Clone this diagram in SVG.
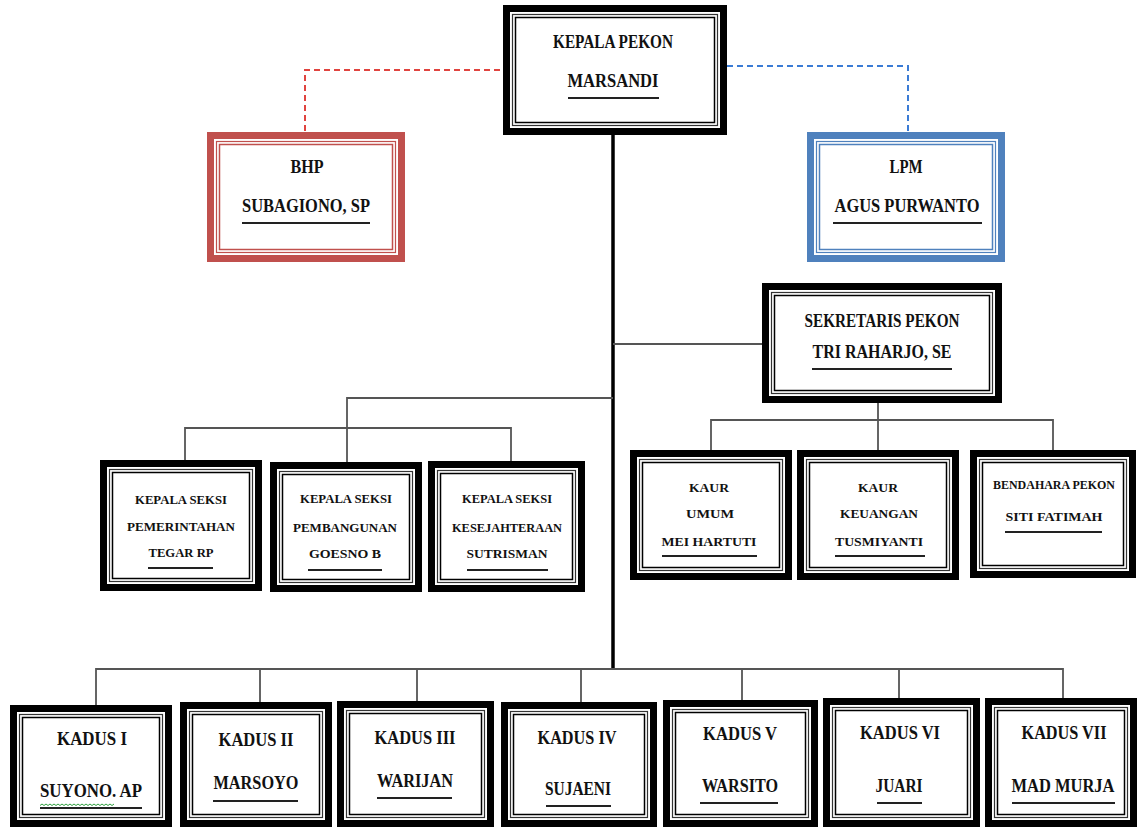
<svg xmlns="http://www.w3.org/2000/svg" width="1137" height="827" viewBox="0 0 1137 827">
<style>
text{font-family:"Liberation Serif","Times New Roman",serif;font-weight:bold;fill:#111;text-anchor:middle}
.o{fill:#fff;stroke:#000;stroke-width:7}
.l1{fill:none;stroke:#333;stroke-width:1.2}
.l2{fill:none;stroke:#000;stroke-width:1.5}
.red .o,.red .l1,.red .l2{stroke:#C0504D}
.blue .o,.blue .l1,.blue .l2{stroke:#4F81BD}
.u{stroke:#222;stroke-width:2}
.c{fill:none;stroke:#555;stroke-width:1.8}
.main{fill:none;stroke:#000;stroke-width:3.5}
.f19{font-size:19px}.f18{font-size:18px}.f13{font-size:13px}.f12{font-size:12px}
</style>
<rect width="1137" height="827" fill="#fff"/>
<g id="connectors">
<path d="M500,70 H305 V132" fill="none" stroke="#E0443F" stroke-width="2" stroke-dasharray="6,4"/>
<path d="M727,66 H908 V132" fill="none" stroke="#3A7BD5" stroke-width="2" stroke-dasharray="6,4"/>
<path class="main" d="M613,135 V669"/>
<path class="c" d="M613,344 H762"/>
<path class="c" d="M613,398 H347 V428 M185,461 V428 H511 V461 M347,428 V462"/>
<path class="c" d="M878,403 V420 M711,450 V420 H1053 V450 M878,420 V450"/>
<path class="c" d="M96,705 V669 H1063 V698 M260,669 V702 M417,669 V701 M581,669 V702 M742,669 V700 M899,669 V698"/>
</g>
<g id="kepala">
<rect class="o" x="506.5" y="8.5" width="217" height="123"/>
<rect class="l1" x="512.5" y="14.5" width="205" height="111"/>
<rect class="l2" x="515.5" y="17.5" width="199" height="105"/>
<text class="f19" x="613" y="48" textLength="120" lengthAdjust="spacingAndGlyphs">KEPALA PEKON</text>
<text class="f19" x="613" y="87" textLength="91" lengthAdjust="spacingAndGlyphs">MARSANDI</text>
<line class="u" x1="568" y1="98" x2="659" y2="98"/>
</g>
<g id="bhp" class="red">
<rect class="o" x="210.5" y="135.5" width="191" height="123"/>
<rect class="l1" x="216.5" y="141.5" width="179" height="111"/>
<rect class="l2" x="219.5" y="144.5" width="173" height="105"/>
<text class="f18" x="307" y="173" textLength="33" lengthAdjust="spacingAndGlyphs">BHP</text>
<text class="f18" x="306" y="212" textLength="128" lengthAdjust="spacingAndGlyphs">SUBAGIONO, SP</text>
<line class="u" x1="242" y1="223" x2="370" y2="223"/>
</g>
<g id="lpm" class="blue">
<rect class="o" x="810.5" y="135.5" width="191" height="123"/>
<rect class="l1" x="816.5" y="141.5" width="179" height="111"/>
<rect class="l2" x="819.5" y="144.5" width="173" height="105"/>
<text class="f18" x="906" y="173" textLength="33" lengthAdjust="spacingAndGlyphs">LPM</text>
<text class="f18" x="907" y="212" textLength="145" lengthAdjust="spacingAndGlyphs">AGUS PURWANTO</text>
<line class="u" x1="833" y1="223" x2="982" y2="223"/>
</g>
<g id="sekretaris">
<rect class="o" x="765.5" y="286.5" width="233" height="113"/>
<rect class="l1" x="771.5" y="292.5" width="221" height="101"/>
<rect class="l2" x="774.5" y="295.5" width="215" height="95"/>
<text class="f18" x="882" y="327" textLength="155" lengthAdjust="spacingAndGlyphs">SEKRETARIS PEKON</text>
<text class="f18" x="882" y="358" textLength="139" lengthAdjust="spacingAndGlyphs">TRI RAHARJO, SE</text>
<line class="u" x1="812" y1="369" x2="952" y2="369"/>
</g>
<g id="seksi1">
<rect class="o" x="103.5" y="463.5" width="155" height="124"/>
<rect class="l1" x="109.5" y="469.5" width="143" height="112"/>
<rect class="l2" x="112.5" y="472.5" width="137" height="106"/>
<text class="f13" x="181" y="504" textLength="92" lengthAdjust="spacingAndGlyphs">KEPALA SEKSI</text>
<text class="f13" x="181" y="531" textLength="108" lengthAdjust="spacingAndGlyphs">PEMERINTAHAN</text>
<text class="f13" x="181" y="557" textLength="65" lengthAdjust="spacingAndGlyphs">TEGAR RP</text>
<line class="u" x1="148" y1="568" x2="213" y2="568"/>
</g>
<g id="seksi2">
<rect class="o" x="273.5" y="465.5" width="145" height="123"/>
<rect class="l1" x="279.5" y="471.5" width="133" height="111"/>
<rect class="l2" x="282.5" y="474.5" width="127" height="105"/>
<text class="f13" x="346" y="503" textLength="92" lengthAdjust="spacingAndGlyphs">KEPALA SEKSI</text>
<text class="f13" x="345" y="532" textLength="104" lengthAdjust="spacingAndGlyphs">PEMBANGUNAN</text>
<text class="f13" x="345" y="558" textLength="72" lengthAdjust="spacingAndGlyphs">GOESNO B</text>
<line class="u" x1="308" y1="570" x2="382" y2="570"/>
</g>
<g id="seksi3">
<rect class="o" x="431.5" y="464.5" width="150" height="124"/>
<rect class="l1" x="437.5" y="470.5" width="138" height="112"/>
<rect class="l2" x="440.5" y="473.5" width="132" height="106"/>
<text class="f13" x="507" y="503" textLength="90" lengthAdjust="spacingAndGlyphs">KEPALA SEKSI</text>
<text class="f13" x="507" y="532" textLength="110" lengthAdjust="spacingAndGlyphs">KESEJAHTERAAN</text>
<text class="f13" x="507" y="558" textLength="81" lengthAdjust="spacingAndGlyphs">SUTRISMAN</text>
<line class="u" x1="467" y1="570" x2="548" y2="570"/>
</g>
<g id="kaur-umum">
<rect class="o" x="633.5" y="453.5" width="155" height="123"/>
<rect class="l1" x="639.5" y="459.5" width="143" height="111"/>
<rect class="l2" x="642.5" y="462.5" width="137" height="105"/>
<text class="f12" x="709" y="492" textLength="40" lengthAdjust="spacingAndGlyphs">KAUR</text>
<text class="f12" x="710" y="518" textLength="48" lengthAdjust="spacingAndGlyphs">UMUM</text>
<text class="f12" x="709" y="546" textLength="95" lengthAdjust="spacingAndGlyphs">MEI HARTUTI</text>
<line class="u" x1="662" y1="556" x2="757" y2="556"/>
</g>
<g id="kaur-keuangan">
<rect class="o" x="800.5" y="453.5" width="155" height="123"/>
<rect class="l1" x="806.5" y="459.5" width="143" height="111"/>
<rect class="l2" x="809.5" y="462.5" width="137" height="105"/>
<text class="f12" x="878" y="492" textLength="40" lengthAdjust="spacingAndGlyphs">KAUR</text>
<text class="f12" x="879" y="518" textLength="78" lengthAdjust="spacingAndGlyphs">KEUANGAN</text>
<text class="f12" x="879" y="546" textLength="88" lengthAdjust="spacingAndGlyphs">TUSMIYANTI</text>
<line class="u" x1="835" y1="556" x2="925" y2="556"/>
</g>
<g id="bendahara">
<rect class="o" x="973.5" y="453.5" width="159" height="121"/>
<rect class="l1" x="979.5" y="459.5" width="147" height="109"/>
<rect class="l2" x="982.5" y="462.5" width="141" height="103"/>
<text class="f12" x="1054" y="489" textLength="122" lengthAdjust="spacingAndGlyphs">BENDAHARA PEKON</text>
<text class="f12" x="1054" y="521" textLength="97" lengthAdjust="spacingAndGlyphs">SITI FATIMAH</text>
<line class="u" x1="1005" y1="532" x2="1102" y2="532"/>
</g>
<g id="kadus1">
<rect class="o" x="13.5" y="708.5" width="155" height="115"/>
<rect class="l1" x="19.5" y="714.5" width="143" height="103"/>
<rect class="l2" x="22.5" y="717.5" width="137" height="97"/>
<text class="f18" x="92" y="745" textLength="70" lengthAdjust="spacingAndGlyphs">KADUS I</text>
<text class="f18" x="91" y="797" textLength="102" lengthAdjust="spacingAndGlyphs">SUYONO. AP</text>
<line class="u" x1="40" y1="808" x2="142" y2="808"/>
<path d="M40,805.5 l2,-1.5 l2,1.5 l2,-1.5 l2,1.5 l2,-1.5 l2,1.5 l2,-1.5 l2,1.5 l2,-1.5 l2,1.5 l2,-1.5 l2,1.5 l2,-1.5 l2,1.5 l2,-1.5 l2,1.5 l2,-1.5 l2,1.5 l2,-1.5 l2,1.5 l2,-1.5 l2,1.5 l2,-1.5 l2,1.5 l2,-1.5 l2,1.5 l2,-1.5 l2,1.5 l2,-1.5 l2,1.5 l2,-1.5 l2,1.5 l2,-1.5 l2,1.5 l2,-1.5 l2,1.5 l2,-1.5" fill="none" stroke="#2E9E3E" stroke-width="1"/>
</g>
<g id="kadus2">
<rect class="o" x="183.5" y="705.5" width="145" height="118"/>
<rect class="l1" x="189.5" y="711.5" width="133" height="106"/>
<rect class="l2" x="192.5" y="714.5" width="127" height="100"/>
<text class="f18" x="256" y="746" textLength="75" lengthAdjust="spacingAndGlyphs">KADUS II</text>
<text class="f18" x="256" y="789" textLength="85" lengthAdjust="spacingAndGlyphs">MARSOYO</text>
<line class="u" x1="213" y1="801" x2="298" y2="801"/>
</g>
<g id="kadus3">
<rect class="o" x="340.5" y="704.5" width="150" height="119"/>
<rect class="l1" x="346.5" y="710.5" width="138" height="107"/>
<rect class="l2" x="349.5" y="713.5" width="132" height="101"/>
<text class="f18" x="415" y="744" textLength="81" lengthAdjust="spacingAndGlyphs">KADUS III</text>
<text class="f18" x="415" y="787" textLength="76" lengthAdjust="spacingAndGlyphs">WARIJAN</text>
<line class="u" x1="377" y1="798" x2="452" y2="798"/>
</g>
<g id="kadus4">
<rect class="o" x="504.5" y="705.5" width="149" height="118"/>
<rect class="l1" x="510.5" y="711.5" width="137" height="106"/>
<rect class="l2" x="513.5" y="714.5" width="131" height="100"/>
<text class="f18" x="577" y="744" textLength="79" lengthAdjust="spacingAndGlyphs">KADUS IV</text>
<text class="f18" x="578" y="795" textLength="66" lengthAdjust="spacingAndGlyphs">SUJAENI</text>
<line class="u" x1="546" y1="806" x2="611" y2="806"/>
</g>
<g id="kadus5">
<rect class="o" x="666.5" y="703.5" width="148" height="120"/>
<rect class="l1" x="672.5" y="709.5" width="136" height="108"/>
<rect class="l2" x="675.5" y="712.5" width="130" height="102"/>
<text class="f18" x="740" y="740" textLength="74" lengthAdjust="spacingAndGlyphs">KADUS V</text>
<text class="f18" x="740" y="792" textLength="76" lengthAdjust="spacingAndGlyphs">WARSITO</text>
<line class="u" x1="700" y1="803" x2="778" y2="803"/>
</g>
<g id="kadus6">
<rect class="o" x="826.5" y="701.5" width="150" height="122"/>
<rect class="l1" x="832.5" y="707.5" width="138" height="110"/>
<rect class="l2" x="835.5" y="710.5" width="132" height="104"/>
<text class="f18" x="900" y="739" textLength="80" lengthAdjust="spacingAndGlyphs">KADUS VI</text>
<text class="f18" x="899" y="792" textLength="47" lengthAdjust="spacingAndGlyphs">JUARI</text>
<line class="u" x1="877" y1="803" x2="922" y2="803"/>
</g>
<g id="kadus7">
<rect class="o" x="988.5" y="701.5" width="145" height="122"/>
<rect class="l1" x="994.5" y="707.5" width="133" height="110"/>
<rect class="l2" x="997.5" y="710.5" width="127" height="104"/>
<text class="f18" x="1064" y="739" textLength="85" lengthAdjust="spacingAndGlyphs">KADUS VII</text>
<text class="f18" x="1063" y="792" textLength="103" lengthAdjust="spacingAndGlyphs">MAD MURJA</text>
<line class="u" x1="1012" y1="803" x2="1115" y2="803"/>
</g>
</svg>
